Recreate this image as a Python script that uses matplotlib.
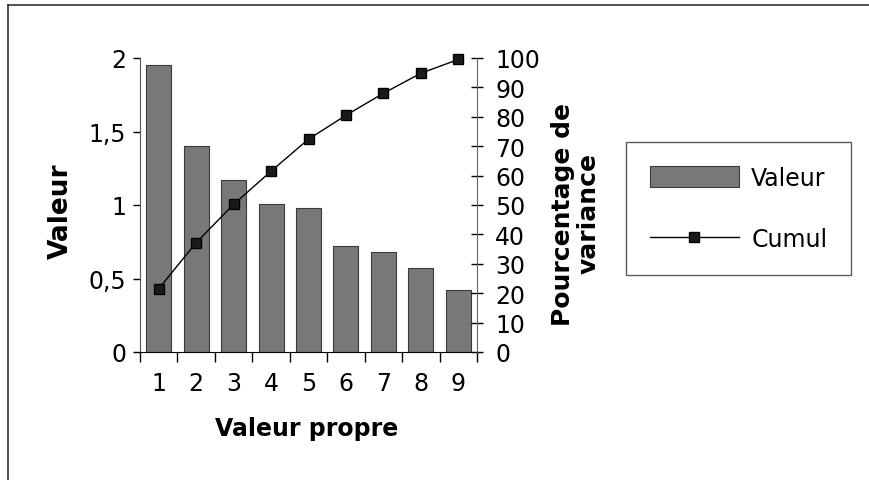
import matplotlib.pyplot as plt
import numpy as np
from matplotlib.lines import Line2D

plt.rcParams['font.family'] = ['DejaVu Sans']

# ------------------- DATA -------------------
composantes = [1, 2, 3, 4, 5, 6, 7, 8, 9]
valeurs = [1.95, 1.40, 1.17, 1.01, 0.98, 0.72, 0.68, 0.57, 0.42]
cumul = [21.5, 37.2, 50.2, 61.5, 72.4, 80.5, 88.0, 94.8, 99.5]
ticks_gauche = [0, 0.5, 1, 1.5, 2]
labels_gauche = ["0", "0,5", "1", "1,5", "2"]
ticks_droite = list(range(0, 101, 10))

BAR_COLOR = '#787878'

# ------------------- FIGURE -------------------
fig = plt.figure(figsize=(8.69, 4.81), dpi=100)
ax = fig.add_axes([140 / 869, 1 - 353 / 481, 337 / 869, 294 / 481])

ax.bar(composantes, valeurs, width=0.67, color=BAR_COLOR, edgecolor='#3a3a3a',
       linewidth=0.8, label="Valeur", zorder=2)
ax.set_xlim(0.5, 9.5)
ax.set_ylim(0, 2)
ax.set_yticks(ticks_gauche)
ax.set_yticklabels(labels_gauche, fontsize=17)
ax.set_xticks(composantes)
ax.set_xticklabels([str(c) for c in composantes], fontsize=17)
ax.set_xticks(np.arange(0.5, 10, 1), minor=True)
ax.tick_params(axis='x', which='major', length=0, pad=14)
ax.tick_params(axis='x', which='minor', length=7, direction='out', width=1)
ax.tick_params(axis='y', length=5, width=1, pad=5)
ax.spines['top'].set_visible(False)
ax.spines['right'].set_visible(False)
ax.spines['left'].set_color('#555555')

ax2 = ax.twinx()
ax2.plot(composantes, cumul, color='black', linewidth=1, marker='s', clip_on=False,
         markersize=7, markerfacecolor='#1a1a1a', markeredgecolor='black', zorder=3)
ax2.set_ylim(0, 100)
ax2.set_yticks(ticks_droite)
ax2.set_yticklabels([str(t) for t in ticks_droite], fontsize=17)
ax2.tick_params(axis='y', direction='inout', length=8, width=1, pad=9)
ax2.spines['top'].set_visible(False)
ax2.spines['left'].set_visible(False)
ax2.spines['bottom'].set_visible(False)
ax2.spines['right'].set_color('#666666')

# axis titles
fig.text(61 / 869, 1 - 211 / 481, "Valeur", rotation=90, ha='center', va='center',
         fontsize=19, fontweight='bold')
fig.text(576 / 869, 1 - 214 / 481, "Pourcentage de\nvariance", rotation=90,
         ha='center', va='center', fontsize=18, fontweight='bold', linespacing=1.1)
fig.text(307 / 869, 1 - 417 / 481, "Valeur propre", ha='center', va='top',
         fontsize=17, fontweight='bold')

# ------------------- LEGEND -------------------
handles = [plt.Rectangle((0, 0), 1, 1, facecolor=BAR_COLOR, edgecolor='#3a3a3a', linewidth=0.8),
           Line2D([0], [0], color='black', linewidth=1, marker='s', markersize=7,
                  markerfacecolor='#1a1a1a', markeredgecolor='black')]
leg = fig.legend(handles, ["Valeur", "Cumul"], loc='upper left',
                 bbox_to_anchor=(626 / 869, 1 - 143 / 481), fontsize=17,
                 frameon=True, fancybox=False, handlelength=3.8, handleheight=1.0,
                 labelspacing=1.6, borderpad=1.0, handletextpad=0.5,
                 borderaxespad=0, numpoints=1)
leg.get_frame().set_edgecolor('#333333')
leg.get_frame().set_linewidth(1)

# figure border (top and left visible)
fig.add_artist(Line2D([8 / 869, 1], [1 - 6 / 481, 1 - 6 / 481], color='#333333', linewidth=1.2))
fig.add_artist(Line2D([8 / 869, 8 / 869], [0, 1 - 6 / 481], color='#333333', linewidth=1.2))

fig.savefig("out.png", dpi=100)
